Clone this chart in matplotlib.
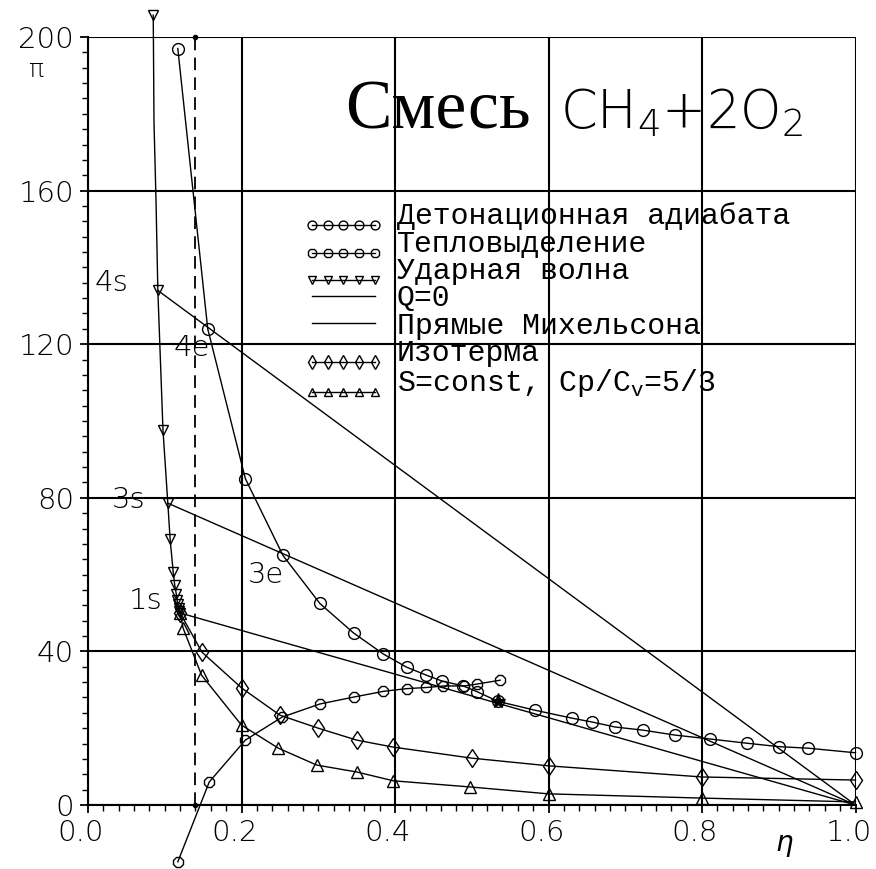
import matplotlib
matplotlib.use('Agg')
import matplotlib.pyplot as plt
import numpy as np
from matplotlib.legend_handler import HandlerLine2D
from matplotlib.lines import Line2D
from matplotlib.ticker import MultipleLocator
from matplotlib.transforms import ScaledTranslation

# ---------------- data ----------------
det_eta = [0.117, 0.156, 0.205, 0.254, 0.302, 0.346, 0.385, 0.415, 0.441, 0.461, 0.489,
           0.507, 0.534, 0.582, 0.631, 0.657, 0.687, 0.723, 0.765, 0.81, 0.858, 0.90, 0.938, 1.0]
det_pi = [197, 124, 85, 65, 52.5, 44.8, 39.3, 35.9, 33.8, 32.3, 31.0,
          29.5, 27.0, 24.7, 22.6, 21.6, 20.3, 19.5, 18.2, 17.2, 16.1, 15.2, 14.8, 13.6]

heat_eta = [0.117, 0.158, 0.205, 0.253, 0.302, 0.346, 0.385, 0.415, 0.441, 0.463, 0.49, 0.507, 0.537]
heat_pi = [-14.8, 6.0, 16.9, 22.9, 26.3, 28.1, 29.6, 30.3, 30.6, 31.0, 31.0, 31.5, 32.5]

shock_eta = [0.085, 0.086, 0.0886, 0.091, 0.0977, 0.104, 0.107, 0.111, 0.113, 0.115,
             0.116, 0.117, 0.118, 0.119, 0.12]
shock_pi = [205.7, 177.6, 157.5, 134.0, 97.6, 78.6, 69.2, 60.7, 57.3, 55.0,
            53.5, 52.3, 51.3, 50.5, 50.0]
shock_marked = [0, 3, 4, 5, 6, 7, 8, 9, 10, 11, 12, 13, 14]

iso_eta = [0.12, 0.1485, 0.2, 0.25, 0.3, 0.35, 0.397, 0.5, 0.6, 0.8, 1.0]
iso_pi = [50.0, 39.8, 30.5, 23.4, 20.0, 16.9, 15.1, 12.2, 10.2, 7.3, 6.5]

adi_eta = [0.12, 0.124, 0.148, 0.2, 0.248, 0.298, 0.35, 0.398, 0.498, 0.6, 0.8, 1.0]
adi_pi = [50.0, 46.0, 33.8, 20.8, 14.8, 10.4, 8.6, 6.3, 4.7, 2.9, 1.8, 0.8]

# Michelson (Rayleigh) lines: from shock points to (1, 0)
ray_start_eta = [0.091, 0.104, 0.12]
ray_start_pi = [134.0, 78.6, 50.0]
ray_end_eta = 1.0
ray_end_pi = 0.0

cj_eta = [0.534]
cj_pi = [27.0]

limit_eta = 0.14   # dashed vertical line

point_labels = ['4s', '3s', '1s', '4e', '3e']
point_label_eta = [0.03, 0.053, 0.075, 0.135, 0.232]
point_label_pi = [136, 79.5, 53, 119, 60]

legend_labels = ['Детонационная адиабата', 'Тепловыделение', 'Ударная волна', 'Q=0',
                 'Прямые Михельсона', 'Изотерма', 'S=const, Cp/C$_\\mathregular{v}$=5/3']

xticks = [0.0, 0.2, 0.4, 0.6, 0.8, 1.0]
xticklabels = ['0.0', '0.2', '0.4', '0.6', '0.8', '1.0']
yticks = [0, 40, 80, 120, 160, 200]
yticklabels = ['0', '40', '80', '120', '160', '200']

# ---------------- figure ----------------
plt.rcParams['mathtext.fontset'] = 'custom'
plt.rcParams['mathtext.rm'] = 'Liberation Mono'

W, H = 876, 869
fig = plt.figure(figsize=(W / 100, H / 100), dpi=100)
ax = fig.add_axes([88 / W, 64 / H, 767.5 / W, 768 / H])
ax.set_xlim(0, 1)
ax.set_ylim(0, 200)

lw = 1.0
ms = 8.5
common = dict(color='black', lw=lw, clip_on=False, mfc='none', mec='black', mew=1.0)

h_det, = ax.plot(det_eta, det_pi, marker='o', ms=ms, **common)
h_heat, = ax.plot(heat_eta, heat_pi, marker='8', ms=ms, **common)
ax.plot(shock_eta, shock_pi, color='black', lw=lw, clip_on=False)
h_shock, = ax.plot([shock_eta[i] for i in shock_marked], [shock_pi[i] for i in shock_marked],
                   ls='none', marker='v', ms=7, mfc='none', mec='black', mew=1.0, clip_on=False)
h_iso, = ax.plot(iso_eta, iso_pi, marker='d', ms=ms + 1, **common)
h_adi, = ax.plot(adi_eta, adi_pi, marker='^', ms=ms - 0.5, **common)
for e0, p0 in zip(ray_start_eta, ray_start_pi):
    ax.plot([e0, ray_end_eta], [p0, ray_end_pi], color='black', lw=lw, clip_on=False)
ax.plot(cj_eta, cj_pi, ls='none', marker='*', ms=11, color='black', clip_on=False)
ax.plot([limit_eta, limit_eta], [0, 200], color='black', lw=1.3, ls=(0, (7, 4)),
        marker='o', ms=3, clip_on=False)

for t, e, p in zip(point_labels, point_label_eta, point_label_pi):
    ax.text(e, p, t, fontsize=21, ha='center', va='center', family='DejaVu Sans',
            fontweight='light', color='black')

# grid & ticks
ax.set_xticks(xticks)
ax.set_xticklabels(xticklabels)
ax.set_yticks(yticks)
ax.set_yticklabels(yticklabels)
ax.xaxis.set_minor_locator(MultipleLocator(0.02))
ax.yaxis.set_minor_locator(MultipleLocator(4))
ax.grid(True, which='major', color='black', lw=1.5)
ax.set_axisbelow(True)
for s in ['top', 'right']:
    ax.spines[s].set_visible(False)
for s in ['left', 'bottom']:
    ax.spines[s].set_linewidth(1.5)
ax.tick_params(which='major', direction='out', length=6, width=1.3, labelsize=21, pad=4)
ax.tick_params(which='minor', direction='out', length=4, width=1.0)
shift = ScaledTranslation(-7 / 100, 0, fig.dpi_scale_trans)
for lab in ax.get_xticklabels():
    lab.set_family('DejaVu Sans')
    lab.set_fontweight('light')
    lab.set_transform(lab.get_transform() + shift)
for lab in ax.get_yticklabels():
    lab.set_family('DejaVu Sans')
    lab.set_fontweight('light')

fig.text(36 / W, 1 - 70 / H, 'π', fontsize=18, ha='center', va='center', family='DejaVu Sans',
         fontweight='light')
fig.text(784 / W, 1 - 843 / H, 'η', fontsize=20, ha='center', va='center', family='DejaVu Sans',
         style='italic')

# title
ax.text(0.335, 0.881, 'Смесь', transform=ax.transAxes, fontsize=50, family='Liberation Serif',
        ha='left', va='baseline')
ax.text(0.615, 0.881, 'CH$_\\mathregular{4}$+2O$_\\mathregular{2}$', transform=ax.transAxes,
        fontsize=38, family='DejaVu Sans', fontweight='light', ha='left', va='baseline',
        math_fontfamily='dejavusans')

# legend
class Underline(HandlerLine2D):
    def create_artists(self, legend, orig_handle, xdescent, ydescent, width, height, fontsize, trans):
        arts = super().create_artists(legend, orig_handle, xdescent, ydescent, width, height,
                                      fontsize, trans)
        line = arts[0]
        n = len(line.get_xdata())
        line.set_ydata(np.full(n, -ydescent - 0.05 * height))
        return arts

h_q0 = Line2D([], [], color='black', lw=lw)
h_ray = Line2D([], [], color='black', lw=lw)
h_shock_leg = Line2D([], [], color='black', lw=lw, marker='v', ms=7, mfc='none', mec='black')
handles = [h_det, h_heat, h_shock_leg, h_q0, h_ray, h_iso, h_adi]
hmap = {h: Underline(numpoints=5) for h in [h_det, h_heat, h_shock_leg, h_iso, h_adi]}
leg = ax.legend(handles, legend_labels, loc='upper left', bbox_to_anchor=(0.28, 0.785),
                frameon=False, prop={'family': 'Liberation Mono', 'size': 21.5},
                numpoints=5, handlelength=2.7, handletextpad=0.45, labelspacing=-0.02,
                borderpad=0, borderaxespad=0, handler_map=hmap, markerscale=0.75)

fig.savefig('out.png', dpi=100)
